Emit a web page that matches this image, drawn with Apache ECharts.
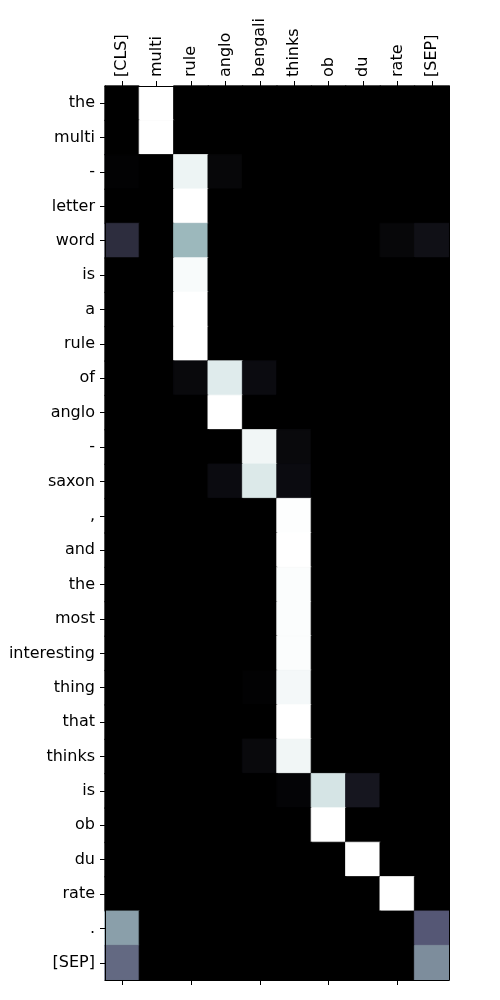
<!DOCTYPE html>
<html>
<head>
<meta charset="utf-8">
<script src="https://cdn.jsdelivr.net/npm/echarts@6/dist/echarts.min.js"></script>
<style>html,body{margin:0;padding:0;background:#fff}#c{width:500px;height:1000px}</style>
</head>
<body>
<div id="c"></div>
<script>
const colLabels = ['[CLS]','multi','rule','anglo','bengali','thinks','ob','du','rate','[SEP]'];
const rowLabels = ['the','multi','-','letter','word','is','a','rule','of','anglo','-','saxon',',','and','the','most','interesting','thing','that','thinks','is','ob','du','rate','.','[SEP]'];
// attention weights: one array per row, columns in colLabels order
const w_the         = [0,1,0,0,0,0,0,0,0,0];
const w_multi       = [0,1,0,0,0,0,0,0,0,0];
const w_dash1       = [0.01,0,0.95,0.03,0,0,0,0,0,0];
const w_letter      = [0,0,1,0,0,0,0,0,0,0];
const w_word        = [0.2,0,0.7,0,0,0,0,0,0.03,0.07];
const w_is1         = [0,0,0.98,0,0,0,0,0,0,0];
const w_a           = [0,0,1,0,0,0,0,0,0,0];
const w_rule        = [0,0,1,0,0,0,0,0,0,0];
const w_of          = [0,0,0.04,0.91,0.05,0,0,0,0,0];
const w_anglo       = [0,0,0,1,0,0,0,0,0,0];
const w_dash2       = [0,0,0,0,0.96,0.04,0,0,0,0];
const w_saxon       = [0,0,0,0.05,0.9,0.05,0,0,0,0];
const w_comma       = [0,0,0,0,0,0.995,0,0,0,0];
const w_and         = [0,0,0,0,0,1,0,0,0,0];
const w_the2        = [0,0,0,0,0,0.99,0,0,0,0];
const w_most        = [0,0,0,0,0,0.99,0,0,0,0];
const w_interesting = [0,0,0,0,0,0.99,0,0,0,0];
const w_thing       = [0,0,0,0,0.01,0.97,0,0,0,0];
const w_that        = [0,0,0,0,0,1,0,0,0,0];
const w_thinks      = [0,0,0,0,0.04,0.96,0,0,0,0];
const w_is2         = [0,0,0,0,0,0.02,0.88,0.1,0,0];
const w_ob          = [0,0,0,0,0,0,1,0,0,0];
const w_du          = [0,0,0,0,0,0,0,1,0,0];
const w_rate        = [0,0,0,0,0,0,0,0,1,0];
const w_period      = [0.62,0,0,0,0,0,0,0,0,0.38];
const w_sep         = [0.44,0,0,0,0,0,0,0,0,0.56];
const rows = [w_the,w_multi,w_dash1,w_letter,w_word,w_is1,w_a,w_rule,w_of,w_anglo,w_dash2,w_saxon,w_comma,w_and,w_the2,w_most,w_interesting,w_thing,w_that,w_thinks,w_is2,w_ob,w_du,w_rate,w_period,w_sep];

// matplotlib "bone" colormap samples (t = 0, 0.125, ..., 1)
const bone = ['#000000','#1c1c27','#38384e','#545574','#707b8f','#8ba1ab','#a8c7c8','#d3e3e4','#ffffff'];

const data = [];
rows.forEach((r, yi) => r.forEach((v, xi) => data.push({
  value: [xi, yi, v],
  // thin edge in the cell's own colour hides anti-aliasing seams between cells
  itemStyle: {borderWidth: 0.8, borderColor: echarts.color.lerp(v, bone)}
})));

const font = 'DejaVu Sans';
const fs = 16;
const chart = echarts.init(document.getElementById('c'), null, {renderer: 'canvas'});
chart.setOption({
  animation: false,
  backgroundColor: '#ffffff',
  grid: {left: 105, right: 51, top: 86, bottom: 20, containLabel: false,
         show: true, backgroundColor: '#000000', borderWidth: 0},
  xAxis: [{
    type: 'category', data: colLabels, position: 'top', z: 10,
    axisLine: {show: true, lineStyle: {color: '#000', width: 1}},
    axisTick: {show: true, alignWithLabel: true, length: 5, lineStyle: {color: '#000'}},
    axisLabel: {rotate: -90, fontFamily: font, fontSize: fs, color: '#000', margin: 9, interval: 0},
    splitLine: {show: false}
  }, {
    type: 'category', data: colLabels, position: 'bottom', z: 10,
    axisLine: {show: true, lineStyle: {color: '#000', width: 1}},
    axisTick: {show: true, alignWithLabel: true, length: 5, lineStyle: {color: '#000'}},
    axisLabel: {show: false},
    splitLine: {show: false}
  }],
  yAxis: [{
    type: 'category', data: rowLabels, inverse: true, position: 'left', z: 10,
    axisLine: {show: true, lineStyle: {color: '#000', width: 1}},
    axisTick: {show: true, alignWithLabel: true, length: 5, lineStyle: {color: '#000'}},
    axisLabel: {fontFamily: font, fontSize: fs, color: '#000', margin: 10, interval: 0},
    splitLine: {show: false}
  }, {
    type: 'category', data: rowLabels, inverse: true, position: 'right', z: 10,
    axisLine: {show: true, lineStyle: {color: '#000', width: 1}},
    axisTick: {show: false},
    axisLabel: {show: false},
    splitLine: {show: false}
  }],
  visualMap: {show: false, min: 0, max: 1, calculable: false, inRange: {color: bone}},
  series: [{
    type: 'heatmap', xAxisIndex: 0, yAxisIndex: 0, data: data,
    emphasis: {disabled: true}
  }]
});
</script>
</body>
</html>
